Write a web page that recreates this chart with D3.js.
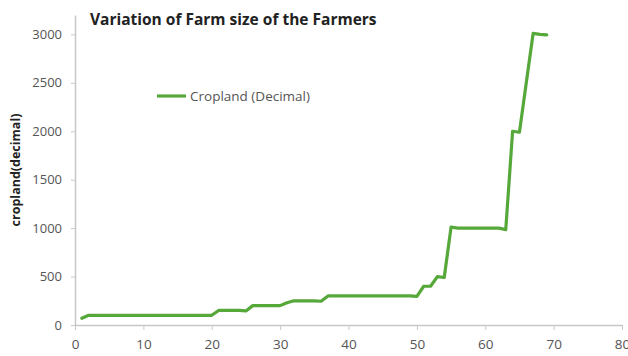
<!DOCTYPE html>
<html>
<head>
<meta charset="utf-8">
<script src="https://cdn.jsdelivr.net/npm/d3@7"></script>
<style>
  body { margin: 0; background: #fff; }
  text { font-family: "Open Sans", "DejaVu Sans", sans-serif; }
</style>
</head>
<body>
<div id="vis"></div>
<script>
// chart values
const farmer = d3.range(1, 70)
const cropland = [
  70, 100, 100, 100, 100, 100, 100, 100, 100, 100,
  100, 100, 100, 100, 100, 100, 100, 100, 100, 100,
  150, 150, 150, 150, 145, 200, 200, 200, 200, 200,
  230, 250, 250, 250, 250, 245, 300, 300, 300, 300,
  300, 300, 300, 300, 300, 300, 300, 300, 300, 295,
  400, 400, 500, 490, 1010, 1000, 1000, 1000, 1000, 1000,
  1000, 1000, 985, 2000, 1990, 2500, 3010, 3000, 2995
]
const xTicks = [0, 10, 20, 30, 40, 50, 60, 70, 80]
const yTicks = [0, 500, 1000, 1500, 2000, 2500, 3000]
const data = farmer.map((f, i) => ({ x: f, y: cropland[i] }))

const margin = { top: 15, right: 6, bottom: 31, left: 75 }
const W = 628, H = 356
const width = W - margin.left - margin.right
const height = H - margin.top - margin.bottom

const svg = d3.select('#vis')
  .append('svg')
  .attr('width', W)
  .attr('height', H)

const g = svg.append('g')
  .attr('transform', `translate(${margin.left},${margin.top})`)

const xScale = d3.scaleLinear().domain([0, 80]).range([0, 547])
const yScale = d3.scaleLinear().domain([0, 3200]).range([height, 0])

// x axis
const xAxis = g.append('g')
  .attr('transform', `translate(0,${height})`)
  .call(d3.axisBottom(xScale).tickValues(xTicks).tickFormat(d3.format('d'))
    .tickSize(5).tickSizeOuter(0).tickPadding(9))
xAxis.select('.domain').attr('stroke', '#c8c8c8').attr('stroke-width', 1.5)
xAxis.selectAll('.tick line').attr('stroke', '#c8c8c8')
xAxis.selectAll('.tick text').attr('fill', '#555').style('font-size', '13.5px')

// y axis
const yAxis = g.append('g')
  .call(d3.axisLeft(yScale).tickValues(yTicks).tickFormat(d3.format('d'))
    .tickSize(4).tickSizeOuter(0).tickPadding(9))
yAxis.select('.domain').attr('stroke', '#c8c8c8').attr('stroke-width', 1.5)
yAxis.selectAll('.tick line').attr('stroke', '#c8c8c8')
yAxis.selectAll('.tick text').attr('fill', '#555').style('font-size', '13px')

// the line
const line = d3.line()
  .x(d => xScale(d.x))
  .y(d => yScale(d.y))

g.append('path')
  .datum(data)
  .attr('fill', 'none')
  .attr('stroke', '#56a83a')
  .attr('stroke-width', 3.2)
  .attr('stroke-linejoin', 'round')
  .attr('stroke-linecap', 'round')
  .attr('d', line)

// title
svg.append('text')
  .attr('x', 90)
  .attr('y', 25)
  .style('font-size', '15.5px')
  .style('font-weight', 'bold')
  .attr('fill', '#222')
  .text('Variation of Farm size of the Farmers')

// y label
svg.append('text')
  .attr('transform', 'rotate(-90)')
  .attr('x', -170)
  .attr('y', 20)
  .attr('text-anchor', 'middle')
  .style('font-size', '12.5px')
  .style('font-weight', 'bold')
  .attr('fill', '#222')
  .text('cropland(decimal)')

// legend
svg.append('line')
  .attr('x1', 157).attr('x2', 186)
  .attr('y1', 96).attr('y2', 96)
  .attr('stroke', '#56a83a')
  .attr('stroke-width', 3.2)

svg.append('text')
  .attr('x', 190)
  .attr('y', 101)
  .style('font-size', '13.5px')
  .attr('fill', '#555')
  .text('Cropland (Decimal)')
</script>
</body>
</html>
